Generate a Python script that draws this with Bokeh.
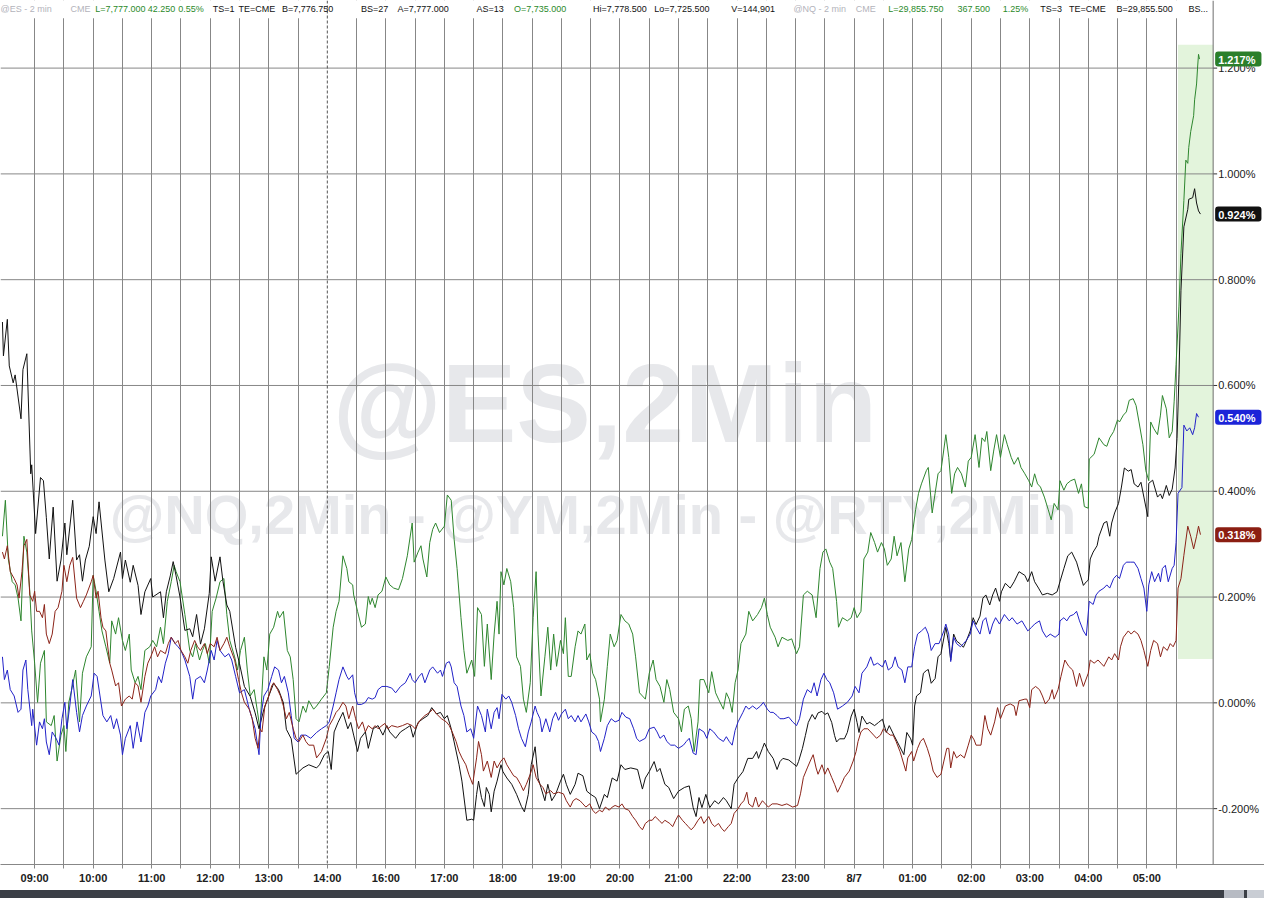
from bokeh.plotting import figure
from bokeh.models import Range1d, FixedTicker, Label, Span, BoxAnnotation, Div
from bokeh.layouts import column
from bokeh.embed import file_html
from bokeh.resources import INLINE

# x = minutes on the chart's session axis (0 = 09:00, 300 = 14:00, 360 = 16:00, 840 = 8/7 00:00)
# y = % change
ym_pts = [  # black
    (-33, 0.720), (-32, 0.656), (-28, 0.725), (-26, 0.637), (-22, 0.605), (-20, 0.620), (-14, 0.537),
    (-12, 0.630), (-8, 0.660), (-4, 0.433), (-3, 0.450), (1, 0.320), (6, 0.426), (9, 0.420), (12, 0.350),
    (15, 0.272), (19, 0.370), (23, 0.230), (27, 0.270), (31, 0.340), (33, 0.280), (39, 0.383), (43, 0.270),
    (46, 0.280), (49, 0.230), (52, 0.270), (56, 0.296), (60, 0.352), (63, 0.320), (66, 0.380), (72, 0.270),
    (76, 0.210), (81, 0.235), (88, 0.285), (90, 0.235), (93, 0.270), (98, 0.228), (101, 0.260), (106, 0.222),
    (109, 0.167), (113, 0.210), (119, 0.235), (121, 0.200), (129, 0.210), (132, 0.161), (135, 0.210),
    (139, 0.240), (142, 0.267), (145, 0.240), (149, 0.200), (154, 0.137), (159, 0.140), (162, 0.125),
    (166, 0.167), (170, 0.111), (174, 0.140), (179, 0.207), (181, 0.276), (185, 0.230), (190, 0.276),
    (193, 0.230), (197, 0.185), (200, 0.173), (206, 0.105), (210, 0.074), (215, 0.031), (221, 0.012),
    (226, -0.019), (230, -0.049), (235, -0.012), (240, 0.013), (245, 0.037), (250, 0.025), (255, 0.000),
    (258, -0.050), (263, -0.068), (268, -0.135), (275, -0.123), (281, -0.117), (289, -0.123), (292, -0.117),
    (297, -0.098), (301, -0.092), (304, -0.126), (307, -0.055), (311, -0.037), (316, -0.018), (321, -0.049),
    (324, -0.037), (327, -0.061), (331, -0.092), (334, -0.067), (339, -0.055), (342, -0.086), (347, -0.049),
    (352, -0.043), (357, -0.061), (361, -0.043), (364, -0.055), (370, -0.067), (375, -0.055), (380, -0.049),
    (385, -0.043), (388, -0.065), (393, -0.037), (398, -0.030), (403, -0.024), (407, -0.009), (412, -0.021),
    (416, -0.018), (420, -0.030), (423, -0.024), (427, -0.049), (430, -0.074), (435, -0.117), (438, -0.148),
    (443, -0.222), (448, -0.220), (450, -0.222), (453, -0.173), (455, -0.148), (458, -0.179), (461, -0.196),
    (463, -0.160), (466, -0.173), (468, -0.206), (471, -0.167), (474, -0.148), (478, -0.117), (480, -0.130),
    (484, -0.142), (489, -0.154), (494, -0.173), (499, -0.196), (502, -0.206), (506, -0.173), (509, -0.117),
    (513, -0.083), (516, -0.142), (519, -0.160), (523, -0.185), (526, -0.154), (530, -0.185), (534, -0.173),
    (539, -0.148), (542, -0.135), (545, -0.154), (549, -0.173), (554, -0.154), (557, -0.133), (562, -0.138),
    (566, -0.167), (570, -0.173), (575, -0.179), (579, -0.200), (584, -0.173), (587, -0.179), (592, -0.142),
    (597, -0.148), (601, -0.117), (605, -0.126), (611, -0.123), (618, -0.126), (623, -0.163), (626, -0.142),
    (630, -0.130), (635, -0.111), (638, -0.130), (641, -0.124), (646, -0.154), (650, -0.160), (655, -0.181),
    (660, -0.167), (666, -0.160), (671, -0.157), (675, -0.198), (678, -0.215), (681, -0.179), (684, -0.198),
    (688, -0.173), (692, -0.198), (697, -0.185), (701, -0.191), (706, -0.179), (709, -0.185), (714, -0.200),
    (717, -0.154), (721, -0.142), (726, -0.130), (731, -0.105), (736, -0.105), (740, -0.092), (742, -0.105),
    (746, -0.086), (748, -0.076), (752, -0.092), (757, -0.105), (761, -0.126), (764, -0.111), (767, -0.105),
    (773, -0.108), (777, -0.114), (781, -0.120), (783, -0.111), (787, -0.086), (790, -0.062), (793, -0.037),
    (797, -0.022), (800, -0.031), (803, -0.019), (807, -0.016), (810, -0.022), (813, -0.019), (817, -0.037),
    (820, -0.062), (822, -0.074), (825, -0.068), (830, -0.068), (833, -0.056), (837, -0.025), (840, -0.012),
    (843, -0.037), (845, -0.056), (848, -0.025), (853, -0.040), (856, -0.037), (861, -0.043), (865, -0.037),
    (869, -0.031), (873, -0.056), (876, -0.043), (881, -0.062), (891, -0.098), (894, -0.056), (898, -0.068),
    (900, -0.080), (902, -0.006), (904, 0.013), (908, 0.019), (911, 0.056), (914, 0.061), (916, 0.063),
    (919, 0.037), (923, 0.046), (926, 0.087), (929, 0.093), (934, 0.143), (937, 0.112), (939, 0.081),
    (942, 0.130), (945, 0.117), (949, 0.111), (952, 0.105), (955, 0.117), (959, 0.136), (962, 0.161),
    (965, 0.148), (969, 0.164), (972, 0.198), (975, 0.204), (979, 0.185), (982, 0.204), (985, 0.217),
    (989, 0.192), (991, 0.210), (995, 0.226), (1000, 0.217), (1004, 0.229), (1009, 0.248), (1015, 0.241),
    (1018, 0.229), (1022, 0.248), (1025, 0.229), (1029, 0.217), (1033, 0.204), (1038, 0.207), (1043, 0.204),
    (1048, 0.210), (1051, 0.229), (1055, 0.254), (1059, 0.278), (1063, 0.285), (1068, 0.266), (1071, 0.247),
    (1075, 0.222), (1078, 0.229), (1080, 0.232), (1082, 0.272), (1085, 0.285), (1089, 0.297), (1091, 0.315),
    (1096, 0.340), (1099, 0.343), (1102, 0.315), (1104, 0.340), (1107, 0.359), (1111, 0.377), (1114, 0.408),
    (1117, 0.444), (1121, 0.438), (1124, 0.441), (1127, 0.414), (1131, 0.408), (1134, 0.417), (1137, 0.389),
    (1141, 0.352), (1142, 0.415), (1146, 0.421), (1148, 0.408), (1151, 0.389), (1154, 0.395), (1156, 0.386),
    (1160, 0.411), (1163, 0.392), (1166, 0.404), (1169, 0.444), (1171, 0.500), (1173, 0.620), (1175, 0.780),
    (1178, 0.900), (1182, 0.933), (1183, 0.952), (1187, 0.955), (1189, 0.972), (1191, 0.945), (1193, 0.930),
    (1195, 0.924),
]

nq_pts = [  # green
    (-33, 0.315), (-30, 0.383), (-27, 0.272), (-23, 0.229), (-20, 0.223), (-17, 0.198), (-14, 0.155),
    (-11, 0.315), (-8, 0.285), (-5, 0.211), (-3, 0.136), (0, 0.075), (3, 0.001), (6, 0.075), (10, 0.099),
    (12, -0.036), (17, -0.043), (20, -0.024), (23, -0.110), (27, -0.061), (30, -0.043), (32, -0.092),
    (35, 0.001), (38, 0.025), (42, 0.062), (46, -0.036), (49, 0.056), (53, 0.087), (58, 0.106), (60, 0.241),
    (63, 0.211), (66, 0.173), (69, 0.136), (73, 0.106), (77, 0.075), (79, 0.155), (83, 0.130), (86, 0.161),
    (90, 0.118), (93, 0.099), (97, 0.130), (99, 0.062), (103, 0.038), (106, 0.050), (109, 0.025), (113, 0.099),
    (118, 0.106), (121, 0.118), (125, 0.106), (129, 0.143), (132, 0.112), (136, 0.192), (140, 0.229),
    (143, 0.260), (145, 0.248), (149, 0.229), (154, 0.167), (159, 0.099), (162, 0.087), (165, 0.112),
    (169, 0.081), (172, 0.099), (175, 0.112), (179, 0.075), (182, 0.173), (186, 0.198), (190, 0.229),
    (194, 0.235), (197, 0.167), (200, 0.118), (205, 0.087), (208, 0.062), (211, 0.099), (215, 0.124),
    (218, 0.062), (221, 0.013), (225, 0.025), (228, -0.012), (231, -0.049), (235, 0.087), (238, 0.062),
    (241, 0.130), (245, 0.143), (249, 0.173), (251, 0.161), (255, 0.173), (259, 0.099), (262, 0.087),
    (265, 0.044), (268, -0.030), (271, -0.036), (275, -0.006), (278, -0.018), (281, 0.004), (286, -0.012),
    (289, -0.006), (294, 0.007), (299, 0.019), (302, 0.069), (306, 0.143), (309, 0.173), (312, 0.192),
    (316, 0.278), (320, 0.254), (322, 0.229), (326, 0.223), (327, 0.204), (331, 0.173), (335, 0.143),
    (339, 0.149), (342, 0.201), (344, 0.186), (346, 0.198), (349, 0.180), (352, 0.204), (356, 0.211),
    (360, 0.238), (364, 0.223), (368, 0.217), (373, 0.214), (377, 0.235), (382, 0.278), (387, 0.340),
    (389, 0.266), (393, 0.285), (396, 0.297), (398, 0.272), (402, 0.238), (405, 0.303), (408, 0.328),
    (411, 0.340), (415, 0.322), (420, 0.334), (423, 0.393), (427, 0.383), (430, 0.309), (433, 0.254),
    (437, 0.161), (440, 0.099), (443, 0.056), (448, 0.081), (451, 0.050), (454, 0.180), (458, 0.167),
    (461, 0.069), (464, 0.149), (468, 0.044), (471, 0.130), (474, 0.192), (476, 0.130), (478, 0.248),
    (481, 0.223), (484, 0.254), (488, 0.229), (491, 0.180), (494, 0.087), (498, 0.069), (501, 0.007),
    (504, -0.018), (508, 0.038), (511, 0.161), (514, 0.248), (516, 0.130), (519, 0.013), (523, 0.087),
    (526, 0.143), (529, 0.062), (532, 0.130), (535, 0.069), (539, 0.118), (542, 0.093), (544, 0.161),
    (547, 0.050), (550, 0.050), (554, 0.106), (557, 0.136), (560, 0.130), (564, 0.149), (566, 0.081),
    (569, 0.093), (572, 0.056), (575, 0.044), (579, 0.007), (580, -0.036), (584, 0.007), (587, 0.069),
    (590, 0.130), (594, 0.106), (597, 0.118), (601, 0.167), (605, 0.155), (609, 0.149), (613, 0.130),
    (616, 0.087), (620, 0.019), (623, 0.013), (626, 0.007), (630, 0.056), (634, 0.081), (637, 0.044),
    (641, 0.031), (645, 0.001), (648, 0.044), (651, 0.025), (655, -0.018), (660, -0.030), (663, -0.055),
    (666, -0.012), (670, -0.006), (673, -0.030), (676, -0.092), (680, -0.036), (682, 0.044), (686, 0.044),
    (691, 0.019), (694, 0.059), (698, 0.019), (701, 0.007), (706, -0.012), (709, 0.019), (712, 0.007),
    (715, -0.018), (718, 0.038), (721, 0.062), (724, 0.112), (729, 0.130), (732, 0.173), (736, 0.155),
    (741, 0.167), (745, 0.180), (748, 0.198), (751, 0.167), (754, 0.143), (759, 0.124), (762, 0.106),
    (766, 0.124), (772, 0.118), (776, 0.121), (781, 0.093), (784, 0.106), (788, 0.204), (792, 0.211),
    (797, 0.204), (801, 0.161), (805, 0.254), (808, 0.285), (811, 0.291), (815, 0.266), (818, 0.254),
    (822, 0.192), (824, 0.143), (828, 0.161), (833, 0.155), (837, 0.161), (840, 0.180), (843, 0.161),
    (847, 0.173), (850, 0.272), (854, 0.285), (857, 0.322), (861, 0.303), (864, 0.285), (868, 0.303),
    (871, 0.291), (874, 0.260), (878, 0.272), (881, 0.315), (884, 0.278), (888, 0.303), (892, 0.229),
    (896, 0.291), (899, 0.309), (903, 0.365), (906, 0.396), (909, 0.414), (914, 0.439), (916, 0.445),
    (920, 0.359), (923, 0.396), (926, 0.433), (929, 0.439), (934, 0.507), (937, 0.464), (940, 0.396),
    (943, 0.433), (946, 0.445), (950, 0.433), (954, 0.408), (957, 0.457), (960, 0.464), (964, 0.507),
    (968, 0.445), (971, 0.501), (974, 0.494), (976, 0.513), (980, 0.439), (983, 0.476), (986, 0.507),
    (990, 0.464), (994, 0.507), (997, 0.488), (1001, 0.464), (1004, 0.451), (1008, 0.464), (1011, 0.445),
    (1015, 0.433), (1019, 0.420), (1022, 0.408), (1025, 0.433), (1028, 0.414), (1031, 0.408), (1035, 0.389),
    (1039, 0.365), (1042, 0.346), (1045, 0.377), (1049, 0.365), (1051, 0.420), (1055, 0.402), (1058, 0.414),
    (1062, 0.420), (1066, 0.423), (1070, 0.396), (1073, 0.414), (1076, 0.371), (1080, 0.368), (1081, 0.461),
    (1086, 0.470), (1091, 0.501), (1096, 0.488), (1099, 0.485), (1102, 0.501), (1106, 0.513), (1110, 0.535),
    (1112, 0.531), (1116, 0.544), (1119, 0.550), (1122, 0.572), (1126, 0.575), (1129, 0.562), (1132, 0.531),
    (1136, 0.488), (1139, 0.439), (1142, 0.420), (1144, 0.531), (1147, 0.519), (1151, 0.507), (1154, 0.544),
    (1156, 0.581), (1160, 0.556), (1163, 0.501), (1166, 0.513), (1168, 0.569), (1170, 0.640), (1173, 0.750),
    (1175, 0.850), (1178, 0.950), (1180, 1.026), (1182, 1.020), (1183, 1.050), (1185, 1.080), (1187, 1.100),
    (1188, 1.110), (1189, 1.140), (1191, 1.170), (1192, 1.200), (1193, 1.226), (1194, 1.217),
]

es_pts = [  # blue
    (-33, 0.087), (-31, 0.044), (-28, 0.062), (-25, 0.025), (-21, 0.013), (-17, -0.018), (-14, -0.012),
    (-12, 0.062), (-9, 0.081), (-7, 0.025), (-3, -0.043), (-2, -0.012), (2, -0.080), (5, -0.036), (8, -0.049),
    (10, -0.030), (12, -0.074), (15, -0.098), (18, -0.055), (22, -0.067), (25, -0.080), (28, -0.030),
    (31, 0.001), (33, -0.049), (36, -0.006), (39, 0.044), (43, -0.018), (46, -0.055), (49, -0.024),
    (53, -0.006), (58, 0.013), (61, 0.056), (64, 0.050), (67, 0.013), (70, -0.024), (74, -0.036), (78, -0.024),
    (81, -0.049), (84, -0.030), (88, -0.061), (90, -0.098), (93, -0.067), (98, -0.043), (101, -0.086),
    (105, -0.036), (109, -0.074), (113, -0.018), (116, -0.006), (119, 0.013), (124, 0.025), (127, 0.050),
    (130, 0.038), (134, 0.075), (137, 0.093), (140, 0.124), (144, 0.112), (147, 0.106), (150, 0.099),
    (154, 0.081), (159, 0.050), (162, 0.007), (165, 0.044), (170, 0.050), (174, 0.038), (177, 0.062),
    (181, 0.099), (184, 0.081), (187, 0.118), (190, 0.099), (195, 0.087), (199, 0.093), (202, 0.081),
    (206, 0.050), (210, 0.019), (215, 0.025), (220, -0.012), (223, -0.030), (226, -0.049), (230, -0.098),
    (232, -0.024), (235, 0.013), (239, 0.025), (243, 0.050), (246, 0.068), (250, 0.062), (253, 0.038),
    (256, 0.050), (260, 0.019), (263, -0.024), (266, -0.067), (270, -0.074), (273, -0.061), (278, -0.061),
    (283, -0.067), (289, -0.056), (294, -0.049), (299, -0.043), (302, -0.036), (306, -0.006), (309, 0.019),
    (312, 0.044), (316, 0.068), (320, 0.050), (322, 0.044), (326, 0.053), (328, 0.019), (331, -0.003),
    (335, -0.003), (339, 0.001), (342, 0.010), (346, 0.007), (349, 0.010), (352, 0.025), (356, 0.031),
    (361, 0.031), (366, 0.028), (370, 0.019), (375, 0.031), (380, 0.038), (385, 0.056), (387, 0.044),
    (390, 0.038), (394, 0.050), (397, 0.056), (400, 0.038), (405, 0.062), (408, 0.068), (413, 0.056),
    (416, 0.062), (418, 0.050), (422, 0.075), (425, 0.078), (427, 0.068), (430, 0.038), (433, 0.031),
    (437, -0.006), (440, -0.024), (443, -0.055), (447, -0.049), (450, -0.067), (454, -0.006), (458, -0.024),
    (462, -0.055), (464, -0.012), (468, -0.049), (471, -0.018), (474, -0.009), (476, -0.030), (479, 0.016),
    (483, 0.007), (486, 0.013), (489, 0.001), (493, -0.024), (496, -0.049), (499, -0.067), (503, -0.083),
    (506, -0.055), (509, -0.036), (513, -0.006), (515, -0.018), (518, -0.030), (520, -0.055), (524, -0.030),
    (528, -0.055), (531, -0.030), (534, -0.018), (537, -0.033), (540, -0.021), (544, -0.012), (547, -0.030),
    (550, -0.024), (554, -0.036), (557, -0.024), (560, -0.036), (565, -0.021), (568, -0.036), (571, -0.055),
    (575, -0.061), (578, -0.073), (580, -0.092), (584, -0.067), (587, -0.043), (591, -0.030), (595, -0.036),
    (599, -0.033), (602, -0.018), (606, -0.027), (610, -0.030), (614, -0.049), (617, -0.067), (620, -0.073),
    (626, -0.067), (630, -0.049), (635, -0.046), (638, -0.055), (641, -0.067), (645, -0.061), (648, -0.073),
    (652, -0.080), (656, -0.080), (660, -0.086), (665, -0.080), (668, -0.073), (671, -0.067), (675, -0.095),
    (678, -0.098), (681, -0.049), (686, -0.055), (689, -0.067), (692, -0.049), (696, -0.055), (701, -0.067),
    (706, -0.073), (709, -0.064), (712, -0.073), (715, -0.080), (718, -0.052), (721, -0.036), (726, -0.018),
    (729, -0.006), (732, -0.012), (736, -0.006), (740, -0.012), (744, -0.006), (747, 0.001), (751, -0.012),
    (754, -0.018), (757, -0.018), (761, -0.024), (764, -0.030), (768, -0.030), (773, -0.027), (777, -0.036),
    (781, -0.043), (784, -0.030), (788, 0.007), (792, 0.025), (796, 0.019), (799, 0.038), (802, 0.013),
    (806, 0.044), (809, 0.056), (812, 0.044), (815, 0.038), (819, 0.019), (823, -0.012), (828, -0.006),
    (833, 0.001), (838, 0.013), (841, 0.031), (845, 0.019), (848, 0.056), (853, 0.068), (857, 0.087),
    (860, 0.071), (864, 0.075), (869, 0.068), (872, 0.081), (875, 0.062), (879, 0.068), (882, 0.087),
    (885, 0.068), (889, 0.062), (892, 0.038), (895, 0.068), (899, 0.068), (902, 0.106), (905, 0.130),
    (909, 0.136), (913, 0.143), (916, 0.130), (919, 0.099), (923, 0.112), (927, 0.112), (932, 0.136),
    (934, 0.149), (937, 0.130), (939, 0.078), (942, 0.124), (945, 0.112), (949, 0.106), (952, 0.112),
    (955, 0.118), (959, 0.130), (962, 0.155), (965, 0.143), (969, 0.130), (972, 0.155), (975, 0.161),
    (979, 0.130), (982, 0.149), (985, 0.161), (989, 0.149), (994, 0.167), (999, 0.155), (1002, 0.161),
    (1007, 0.149), (1012, 0.155), (1018, 0.136), (1022, 0.143), (1025, 0.149), (1030, 0.155), (1033, 0.136),
    (1037, 0.124), (1041, 0.130), (1046, 0.124), (1050, 0.130), (1051, 0.155), (1055, 0.161), (1058, 0.155),
    (1061, 0.164), (1065, 0.167), (1068, 0.173), (1071, 0.155), (1075, 0.136), (1078, 0.127), (1081, 0.192),
    (1085, 0.186), (1088, 0.204), (1091, 0.211), (1096, 0.217), (1099, 0.223), (1102, 0.217), (1106, 0.235),
    (1109, 0.241), (1112, 0.235), (1116, 0.260), (1119, 0.266), (1123, 0.266), (1127, 0.266), (1131, 0.254),
    (1134, 0.235), (1137, 0.217), (1140, 0.173), (1142, 0.223), (1145, 0.248), (1148, 0.229), (1152, 0.245),
    (1154, 0.229), (1156, 0.254), (1159, 0.260), (1162, 0.229), (1166, 0.254), (1168, 0.260), (1170, 0.303),
    (1172, 0.396), (1176, 0.407), (1178, 0.525), (1181, 0.514), (1184, 0.520), (1187, 0.507), (1189, 0.520),
    (1191, 0.547), (1193, 0.540),
]

rty_pts = [  # dark red
    (-33, 0.285), (-31, 0.272), (-28, 0.297), (-25, 0.248), (-21, 0.235), (-18, 0.223), (-16, 0.198),
    (-13, 0.248), (-11, 0.297), (-8, 0.309), (-5, 0.204), (-2, 0.192), (0, 0.211), (2, 0.173), (5, 0.173),
    (8, 0.161), (10, 0.186), (12, 0.130), (15, 0.112), (18, 0.130), (21, 0.173), (24, 0.180), (28, 0.211),
    (30, 0.260), (33, 0.229), (36, 0.260), (39, 0.275), (43, 0.198), (47, 0.180), (50, 0.192), (53, 0.204),
    (58, 0.229), (60, 0.241), (63, 0.198), (65, 0.211), (68, 0.161), (70, 0.143), (73, 0.136), (77, 0.075),
    (79, 0.062), (83, 0.032), (86, 0.038), (89, -0.006), (93, 0.007), (97, 0.013), (100, 0.007), (103, 0.038),
    (106, 0.032), (109, 0.001), (113, 0.050), (116, 0.075), (119, 0.087), (123, 0.106), (126, 0.087),
    (129, 0.099), (134, 0.093), (137, 0.112), (140, 0.124), (144, 0.112), (147, 0.118), (150, 0.099),
    (154, 0.087), (157, 0.075), (160, 0.099), (164, 0.118), (167, 0.106), (170, 0.099), (174, 0.112),
    (177, 0.093), (180, 0.112), (184, 0.106), (187, 0.124), (190, 0.099), (194, 0.112), (197, 0.124),
    (200, 0.106), (205, 0.081), (209, 0.044), (212, 0.019), (215, 0.001), (220, -0.012), (223, -0.030),
    (226, -0.067), (229, -0.086), (231, -0.049), (233, -0.055), (236, -0.006), (240, 0.013), (243, 0.032),
    (245, 0.038), (249, 0.025), (252, 0.013), (255, -0.006), (258, -0.030), (261, -0.018), (265, -0.049),
    (268, -0.067), (271, -0.073), (275, -0.061), (278, -0.073), (281, -0.080), (286, -0.080), (289, -0.104),
    (294, -0.092), (299, -0.067), (302, -0.043), (306, -0.030), (309, -0.018), (312, -0.012), (316, 0.001),
    (319, -0.006), (322, -0.030), (326, -0.006), (329, -0.030), (332, -0.049), (336, -0.036), (339, -0.055),
    (342, -0.043), (346, -0.049), (349, -0.043), (352, -0.049), (356, -0.043), (359, -0.039), (362, -0.049),
    (366, -0.043), (372, -0.046), (377, -0.043), (382, -0.039), (387, -0.043), (390, -0.049), (395, -0.033),
    (400, -0.024), (405, -0.018), (408, -0.012), (412, -0.021), (417, -0.030), (422, -0.036), (425, -0.043),
    (428, -0.055), (432, -0.073), (435, -0.092), (438, -0.104), (442, -0.117), (445, -0.135), (449, -0.154),
    (453, -0.104), (455, -0.073), (458, -0.098), (460, -0.129), (464, -0.110), (468, -0.141), (471, -0.110),
    (474, -0.123), (478, -0.110), (481, -0.104), (484, -0.117), (488, -0.129), (491, -0.138), (494, -0.141),
    (498, -0.154), (501, -0.166), (504, -0.154), (508, -0.135), (511, -0.117), (514, -0.141), (518, -0.154),
    (521, -0.160), (524, -0.172), (529, -0.166), (532, -0.172), (537, -0.169), (542, -0.172), (545, -0.185),
    (549, -0.197), (552, -0.185), (555, -0.181), (559, -0.185), (562, -0.191), (565, -0.197), (569, -0.191),
    (572, -0.203), (575, -0.209), (579, -0.203), (582, -0.206), (585, -0.197), (589, -0.203), (592, -0.197),
    (595, -0.194), (599, -0.197), (602, -0.191), (605, -0.200), (609, -0.203), (613, -0.215), (616, -0.222),
    (620, -0.234), (623, -0.240), (626, -0.228), (630, -0.222), (633, -0.222), (636, -0.215), (640, -0.222),
    (643, -0.228), (646, -0.222), (651, -0.228), (654, -0.234), (657, -0.222), (660, -0.212), (664, -0.222),
    (667, -0.228), (670, -0.234), (673, -0.240), (676, -0.234), (680, -0.222), (683, -0.215), (686, -0.228),
    (691, -0.215), (694, -0.228), (697, -0.234), (701, -0.228), (704, -0.237), (707, -0.243), (711, -0.234),
    (714, -0.228), (717, -0.209), (721, -0.200), (724, -0.191), (727, -0.185), (730, -0.169), (732, -0.191),
    (736, -0.197), (739, -0.178), (742, -0.197), (746, -0.185), (749, -0.191), (752, -0.197), (756, -0.191),
    (761, -0.191), (766, -0.194), (771, -0.191), (777, -0.197), (782, -0.194), (785, -0.172), (788, -0.141),
    (792, -0.123), (795, -0.110), (798, -0.098), (801, -0.123), (803, -0.135), (807, -0.117), (810, -0.135),
    (813, -0.123), (817, -0.141), (820, -0.154), (823, -0.169), (827, -0.154), (830, -0.141), (835, -0.129),
    (839, -0.110), (842, -0.092), (844, -0.073), (847, -0.055), (850, -0.049), (854, -0.049), (857, -0.055),
    (860, -0.061), (863, -0.067), (867, -0.061), (870, -0.049), (873, -0.055), (877, -0.061), (880, -0.061),
    (883, -0.073), (887, -0.092), (889, -0.104), (893, -0.129), (895, -0.104), (899, -0.092), (901, -0.110),
    (905, -0.086), (908, -0.073), (911, -0.067), (915, -0.086), (918, -0.104), (921, -0.129), (925, -0.141),
    (929, -0.135), (932, -0.110), (935, -0.086), (937, -0.086), (939, -0.123), (942, -0.092), (945, -0.104),
    (949, -0.098), (953, -0.104), (957, -0.080), (960, -0.061), (963, -0.070), (965, -0.080), (970, -0.080),
    (974, -0.024), (977, -0.049), (980, -0.061), (984, -0.036), (987, -0.009), (990, -0.030), (995, -0.006),
    (1000, -0.002), (1004, -0.006), (1006, -0.024), (1009, 0.004), (1015, 0.007), (1017, 0.007), (1020, -0.009),
    (1022, 0.025), (1026, 0.031), (1030, 0.025), (1033, 0.013), (1036, -0.002), (1040, 0.007), (1043, 0.025),
    (1045, 0.007), (1049, 0.025), (1052, 0.050), (1056, 0.081), (1060, 0.069), (1064, 0.062), (1068, 0.031),
    (1071, 0.056), (1075, 0.031), (1080, 0.056), (1082, 0.081), (1086, 0.075), (1090, 0.081), (1093, 0.075),
    (1096, 0.069), (1101, 0.087), (1104, 0.081), (1107, 0.093), (1111, 0.081), (1113, 0.106), (1116, 0.124),
    (1121, 0.136), (1124, 0.130), (1127, 0.136), (1131, 0.130), (1134, 0.118), (1137, 0.099), (1141, 0.069),
    (1144, 0.099), (1147, 0.118), (1151, 0.112), (1154, 0.087), (1157, 0.106), (1161, 0.099), (1164, 0.112),
    (1167, 0.106), (1170, 0.118), (1172, 0.217), (1175, 0.235), (1178, 0.279), (1182, 0.334), (1185, 0.315),
    (1188, 0.291), (1191, 0.315), (1193, 0.334), (1195, 0.318),
]

hour_ticks = list(range(0, 301, 60)) + list(range(360, 1141, 60))
hour_labels = ["09:00", "10:00", "11:00", "12:00", "13:00", "14:00", "16:00", "17:00", "18:00", "19:00",
               "20:00", "21:00", "22:00", "23:00", "8/7", "01:00", "02:00", "03:00", "04:00", "05:00"]
session_break = 300          # dashed line at 14:00
pct_ticks = [-0.2, 0.0, 0.2, 0.4, 0.6, 0.8, 1.0, 1.2]
last_vals = {"nq": 1.217, "ym": 0.924, "es": 0.540, "rty": 0.318}
last_range = (1172, 0.083, 1.244)   # shaded box of the last bars: start, low, high

GREEN, BLACK, BLUE, RED = "#2e862e", "#111111", "#2222c8", "#8b2318"
GRID = "#878787"

W, H = 1264, 886
X0, X1 = -35, 1208                  # X1 = price axis line
XR = X0 + (X1 - X0) * 1280 / 1228   # frame also holds the price scale column
Y0, Y1 = -0.3056, 1.3278
DX = (XR - X0) / W                  # data units per pixel

p = figure(width=W, height=H, x_range=Range1d(X0, XR), y_range=Range1d(Y0, Y1),
           y_axis_location=None, toolbar_location=None, output_backend="svg",
           min_border_left=0, min_border_top=0, min_border_right=0, min_border_bottom=20,
           outline_line_color=None, background_fill_color="white", border_fill_color="white")


def rx(px):   # position in the reference picture (pixels) -> data x
    return X0 + px / 1280 * (XR - X0)


def ry(py):
    return Y1 - py / 882 * (Y1 - Y0)


# watermark
p.add_layout(Label(x=rx(612), y=ry(411), text="@ES,2Min", text_align="center", text_baseline="middle",
                   text_font="Liberation Sans", text_font_size="112px", text_font_style="bold",
                   text_color="#e7e8eb", level="image"))
p.add_layout(Label(x=rx(600), y=ry(525), text="@NQ,2Min - @YM,2Min - @RTY,2Min", text_align="center",
                   text_baseline="middle", text_font="Liberation Sans", text_font_size="56px",
                   text_font_style="bold", text_color="#e7e8eb", level="image"))

# last bars highlight
p.add_layout(BoxAnnotation(left=last_range[0], right=X1, bottom=last_range[1], top=last_range[2],
                           fill_color="#e3f4dc", fill_alpha=1, line_color=None, level="image"))

grid_ticks = [t for t in range(0, 1171, 30) if t != session_break]
p.xgrid.ticker = FixedTicker(ticks=grid_ticks)
p.xgrid.grid_line_color = GRID
p.ygrid.visible = False

# horizontal grid lines stop at the price axis
p.segment(x0=[X0] * len(pct_ticks), x1=[X1] * len(pct_ticks), y0=pct_ticks, y1=pct_ticks,
          line_color=GRID, line_width=1)
# price axis ticks
p.segment(x0=[X1] * len(pct_ticks), x1=[X1 + 4 * DX] * len(pct_ticks), y0=pct_ticks, y1=pct_ticks,
          line_color="#333333", line_width=1)

# white band behind the quote header
p.add_layout(BoxAnnotation(bottom=ry(18), top=Y1, fill_color="white", fill_alpha=1, line_color=None, level="glyph"))
p.add_layout(Span(location=session_break, dimension="height", line_color="#555555", line_dash="3 2", line_width=1))
p.add_layout(Span(location=X1, dimension="height", line_color="#6e6e6e", line_width=1))

for pts, col in [(nq_pts, GREEN), (ym_pts, BLACK), (es_pts, BLUE), (rty_pts, RED)]:
    p.line([t for t, v in pts], [v for t, v in pts], line_color=col, line_width=1)

xa = p.xaxis[0]
xa.ticker = FixedTicker(ticks=list(range(0, 1171, 30)))
xa.major_label_overrides = {t: "" for t in range(0, 1171, 30)} | dict(zip(hour_ticks, hour_labels))
xa.major_label_text_font = "Liberation Sans"
xa.major_label_text_font_style = "bold"
xa.major_label_text_font_size = "11px"
xa.major_label_text_color = "#202020"
xa.axis_line_color = GRID
xa.major_tick_line_color = GRID
xa.major_tick_in = 0
xa.major_tick_out = 4
xa.minor_tick_line_color = None
xa.major_label_standoff = 3

# price scale labels
for t in pct_ticks:
    p.add_layout(Label(x=X1, y=t, x_offset=5, text=f"{t:.3f}%", text_baseline="middle",
                       text_font="Liberation Sans", text_font_size="11px", text_color="#202020"))

# last value tags
for key, col in [("nq", "#2a7f2a"), ("ym", "#111111"), ("es", "#1c24d8"), ("rty", "#8b1e12")]:
    p.add_layout(Label(x=X1, y=last_vals[key], x_offset=2, text=f"{last_vals[key]:.3f}%", text_baseline="middle",
                       text_font="Liberation Sans", text_font_size="11px", text_font_style="bold",
                       text_color="white", background_fill_color=col, border_radius=3, padding=(3, 6, 2, 1)))

# quote header
GRAYT, GREENT = "#b3b3bb", "#2b8a2b"
header = [
    (0, "@ES - 2 min", GRAYT), (71, "CME", GRAYT), (96, "L=7,777.000", GREENT), (149, "42.250", GREENT),
    (180, "0.55%", GREENT), (215, "TS=1", BLACK), (241, "TE=CME", BLACK), (285, "B=7,776.750", BLACK),
    (365, "BS=27", BLACK), (402, "A=7,777.000", BLACK), (482, "AS=13", BLACK), (520, "O=7,735.000", GREENT),
    (600, "Hi=7,778.500", BLACK), (662, "Lo=7,725.500", BLACK), (740, "V=144,901", BLACK),
    (803, "@NQ - 2 min", GRAYT), (866, "CME", GRAYT), (899, "L=29,855.750", GREENT), (969, "367.500", GREENT),
    (1015, "1.25%", GREENT), (1053, "TS=3", BLACK), (1082, "TE=CME", BLACK), (1130, "B=29,855.500", BLACK),
    (1203, "BS...", BLACK),
]
for hx, txt, col in header:
    p.add_layout(Label(x=rx(hx), y=ry(9), text=txt, text_baseline="middle", text_color=col,
                       text_font="Liberation Sans", text_font_size="9px"))

bar = Div(text='<div style="position:relative;width:1264px;height:8px;background:#3b3f46">'
               '<div style="position:absolute;left:1224px;top:0;width:20px;height:8px;background:#b7bbc3"></div>'
               '<div style="position:absolute;left:1247px;top:0;width:17px;height:8px;background:#c9cdd4"></div>'
               '</div>', width=1264, height=8, margin=(0, 0, 0, 0))

layout = column(p, bar, spacing=0)
open("out.html", "w").write(file_html(layout, INLINE))
